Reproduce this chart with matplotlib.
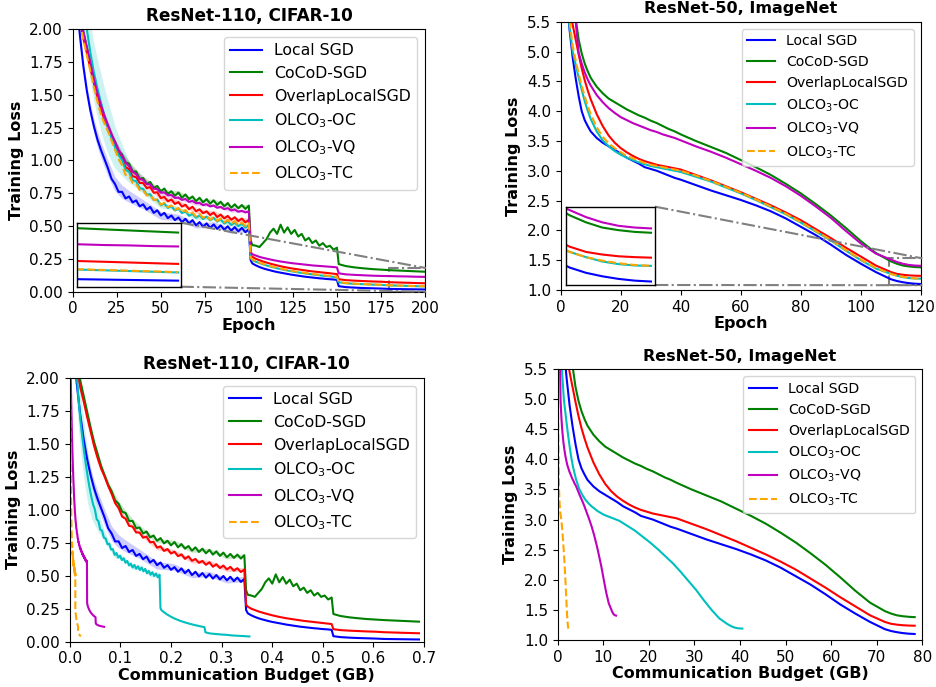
import numpy as np
import matplotlib
matplotlib.use("Agg")
import matplotlib.pyplot as plt
from mpl_toolkits.axes_grid1.inset_locator import mark_inset

# ==============================
# Data
# ==============================
METHODS = ["Local SGD", "CoCoD-SGD", "OverlapLocalSGD",
           r"OLCO$_3$-OC", r"OLCO$_3$-VQ", r"OLCO$_3$-TC"]
COLORS = ["b", "g", "r", "c", "m", "orange"]
STYLES = ["-", "-", "-", "-", "-", "--"]

# --- ResNet-110, CIFAR-10 ---
cifar_epochs = np.array([1, 2, 3, 4, 5] + list(range(6, 101, 2)) + [101]
                        + list(range(102, 151, 2)) + [151] + list(range(155, 201, 5)))

cifar_local = [2.60, 2.35, 2.12, 1.96, 1.84,
               1.72, 1.53, 1.38, 1.26, 1.16, 1.08, 1.01, 0.94, 0.86, 0.82, 0.76, 0.76,
               0.71, 0.725, 0.68, 0.695, 0.65, 0.665, 0.625, 0.645, 0.60, 0.62, 0.58, 0.60,
               0.56, 0.58, 0.545, 0.565, 0.53, 0.555, 0.52, 0.545, 0.505, 0.53, 0.495, 0.52,
               0.485, 0.512, 0.478, 0.505, 0.472, 0.498, 0.465, 0.492, 0.459, 0.486, 0.453, 0.475,
               0.24, 0.215, 0.20, 0.188, 0.178, 0.17, 0.163, 0.156, 0.15, 0.145, 0.14, 0.135, 0.13,
               0.126, 0.122, 0.118, 0.114, 0.111, 0.108, 0.105, 0.102, 0.10, 0.097, 0.095, 0.093, 0.09,
               0.042, 0.035, 0.031, 0.028, 0.026, 0.024, 0.021, 0.020, 0.019, 0.018, 0.017]
cifar_cocod = [2.90, 2.65, 2.40, 2.20, 2.05,
               1.98, 1.86, 1.74, 1.62, 1.51, 1.42, 1.33, 1.26, 1.19, 1.14, 1.07, 1.045,
               0.985, 0.975, 0.915, 0.915, 0.86, 0.865, 0.82, 0.835, 0.79, 0.805, 0.765, 0.785,
               0.745, 0.765, 0.73, 0.755, 0.715, 0.74, 0.705, 0.725, 0.69, 0.715, 0.68, 0.705,
               0.67, 0.695, 0.66, 0.685, 0.65, 0.675, 0.64, 0.665, 0.635, 0.66, 0.63, 0.655,
               0.39, 0.355, 0.35, 0.34, 0.37, 0.40, 0.45, 0.48, 0.44, 0.51, 0.45, 0.49, 0.44,
               0.47, 0.42, 0.44, 0.39, 0.41, 0.37, 0.39, 0.35, 0.37, 0.34, 0.35, 0.32, 0.335,
               0.21, 0.195, 0.185, 0.178, 0.172, 0.168, 0.164, 0.161, 0.158, 0.155, 0.152]
cifar_overlap = [2.90, 2.60, 2.35, 2.15, 2.00,
                 1.93, 1.82, 1.70, 1.59, 1.48, 1.39, 1.31, 1.25, 1.18, 1.12, 1.05, 1.012,
                 0.948, 0.932, 0.878, 0.872, 0.828, 0.827, 0.788, 0.797, 0.753, 0.757, 0.713, 0.722,
                 0.688, 0.702, 0.668, 0.682, 0.648, 0.662, 0.628, 0.647, 0.613, 0.627, 0.598, 0.612,
                 0.583, 0.602, 0.568, 0.587, 0.558, 0.577, 0.548, 0.567, 0.538, 0.557, 0.528, 0.547,
                 0.28, 0.265, 0.25, 0.24, 0.23, 0.222, 0.214, 0.207, 0.20, 0.194, 0.188, 0.183, 0.178,
                 0.174, 0.17, 0.166, 0.162, 0.158, 0.155, 0.152, 0.149, 0.146, 0.143, 0.14, 0.137, 0.134,
                 0.095, 0.088, 0.084, 0.081, 0.078, 0.076, 0.072, 0.070, 0.068, 0.066, 0.064]
cifar_oc = [3.10, 2.85, 2.60, 2.40, 2.26,
            2.15, 2.00, 1.82, 1.67, 1.55, 1.44, 1.34, 1.25, 1.17, 1.10, 1.04, 1.002,
            0.928, 0.912, 0.848, 0.842, 0.788, 0.782, 0.738, 0.742, 0.698, 0.702, 0.658, 0.672,
            0.638, 0.652, 0.618, 0.632, 0.598, 0.612, 0.578, 0.592, 0.563, 0.582, 0.553, 0.572,
            0.543, 0.562, 0.533, 0.552, 0.518, 0.537, 0.508, 0.527, 0.498, 0.517, 0.488, 0.507,
            0.255, 0.24, 0.228, 0.218, 0.208, 0.20, 0.192, 0.185, 0.178, 0.172, 0.166, 0.161, 0.156,
            0.151, 0.147, 0.143, 0.139, 0.135, 0.132, 0.128, 0.125, 0.122, 0.119, 0.116, 0.113, 0.11,
            0.072, 0.064, 0.06, 0.057, 0.054, 0.052, 0.048, 0.046, 0.044, 0.042, 0.040]
cifar_vq = [2.95, 2.70, 2.45, 2.22, 2.06,
            1.98, 1.86, 1.74, 1.62, 1.51, 1.42, 1.34, 1.27, 1.20, 1.14, 1.08, 1.036,
            0.984, 0.956, 0.914, 0.896, 0.859, 0.851, 0.819, 0.816, 0.784, 0.781, 0.754, 0.756,
            0.734, 0.736, 0.714, 0.716, 0.699, 0.706, 0.684, 0.691, 0.674, 0.676, 0.659, 0.666,
            0.649, 0.656, 0.639, 0.646, 0.629, 0.636, 0.619, 0.626, 0.609, 0.616, 0.604, 0.611,
            0.30, 0.285, 0.275, 0.265, 0.258, 0.252, 0.246, 0.24, 0.235, 0.23, 0.226, 0.222, 0.218,
            0.215, 0.212, 0.209, 0.206, 0.203, 0.20, 0.198, 0.196, 0.194, 0.192, 0.19, 0.188, 0.185,
            0.14, 0.132, 0.128, 0.125, 0.122, 0.12, 0.119, 0.117, 0.116, 0.114, 0.113]
cifar_tc = [2.85, 2.55, 2.30, 2.12, 2.00,
            1.92, 1.80, 1.68, 1.56, 1.45, 1.35, 1.28, 1.22, 1.15, 1.08, 1.01, 0.962,
            0.888, 0.882, 0.828, 0.822, 0.773, 0.772, 0.733, 0.737, 0.698, 0.702, 0.663, 0.677,
            0.643, 0.657, 0.623, 0.637, 0.603, 0.622, 0.588, 0.602, 0.573, 0.592, 0.563, 0.577,
            0.548, 0.567, 0.538, 0.557, 0.528, 0.547, 0.518, 0.537, 0.508, 0.527, 0.50, 0.522,
            0.26, 0.245, 0.232, 0.222, 0.212, 0.204, 0.196, 0.189, 0.182, 0.176, 0.17, 0.165, 0.16,
            0.155, 0.151, 0.147, 0.143, 0.139, 0.136, 0.132, 0.129, 0.126, 0.123, 0.12, 0.117, 0.114,
            0.074, 0.066, 0.061, 0.058, 0.055, 0.053, 0.049, 0.047, 0.045, 0.043, 0.041]

# std bands (epochs where the shaded spread is given)
cifar_band_epochs = [2, 4, 6, 8, 10, 12, 14, 16, 18, 20, 24, 28, 32, 36, 40, 50, 60, 70, 80, 90, 100]
cifar_std_local = [0.03, 0.03, 0.04, 0.045, 0.05, 0.055, 0.06, 0.06, 0.06, 0.06, 0.055,
                   0.05, 0.045, 0.04, 0.035, 0.03, 0.025, 0.02, 0.02, 0.02, 0.02]
cifar_std_cocod = [0.02, 0.02, 0.02, 0.02, 0.02, 0.02, 0.02, 0.02, 0.02, 0.02, 0.02,
                   0.02, 0.02, 0.018, 0.016, 0.015, 0.014, 0.013, 0.012, 0.012, 0.012]
cifar_std_overlap = [0.015] * 21
cifar_std_oc = [0.08, 0.10, 0.15, 0.20, 0.22, 0.22, 0.22, 0.22, 0.21, 0.20, 0.16,
                0.12, 0.08, 0.05, 0.035, 0.02, 0.015, 0.015, 0.015, 0.015, 0.015]
cifar_std_vq = [0.02, 0.02, 0.02, 0.02, 0.02, 0.02, 0.025, 0.025, 0.025, 0.025, 0.025,
                0.025, 0.025, 0.025, 0.02, 0.02, 0.015, 0.015, 0.012, 0.012, 0.012]
cifar_std_tc = [0.01] * 21

# communication cost per epoch (GB)
cifar_gb_per_epoch = [0.00345, 0.00345, 0.00345, 0.001775, 0.00034, 0.00011]

# --- ResNet-50, ImageNet ---
imnet_epochs = np.array(list(range(1, 11)) + list(range(12, 41, 2))
                        + list(range(45, 111, 5)) + [112, 114, 116, 118, 120])

imnet_local = [6.6, 5.9, 5.35, 4.9, 4.55, 4.25, 4.0, 3.85, 3.75, 3.66,
               3.55, 3.47, 3.41, 3.35, 3.29, 3.22, 3.17, 3.12, 3.06, 3.03, 3.0, 2.96, 2.92, 2.88, 2.85,
               2.76, 2.67, 2.59, 2.51, 2.42, 2.32, 2.2, 2.06, 1.92, 1.76, 1.59, 1.44, 1.3, 1.18,
               1.15, 1.13, 1.115, 1.105, 1.10]
imnet_cocod = [7.0, 6.5, 6.05, 5.75, 5.55, 5.2, 4.97, 4.8, 4.67, 4.56,
               4.41, 4.3, 4.21, 4.15, 4.09, 4.03, 3.98, 3.93, 3.89, 3.84, 3.8, 3.75, 3.7, 3.66, 3.61,
               3.5, 3.4, 3.3, 3.18, 3.06, 2.93, 2.78, 2.62, 2.44, 2.25, 2.04, 1.82, 1.62, 1.48,
               1.44, 1.41, 1.395, 1.385, 1.38]
imnet_overlap = [6.9, 6.2, 5.75, 5.45, 5.2, 4.95, 4.72, 4.52, 4.35, 4.2,
                 3.95, 3.75, 3.59, 3.47, 3.38, 3.31, 3.25, 3.2, 3.16, 3.13, 3.1, 3.08, 3.06, 3.04, 3.02,
                 2.93, 2.84, 2.74, 2.64, 2.53, 2.42, 2.3, 2.17, 2.02, 1.87, 1.71, 1.56, 1.41, 1.3,
                 1.27, 1.255, 1.245, 1.24, 1.237]
imnet_oc = [6.8, 6.0, 5.4, 5.0, 4.78, 4.56, 4.36, 4.17, 4.01, 3.87,
            3.66, 3.51, 3.41, 3.33, 3.27, 3.22, 3.18, 3.14, 3.11, 3.08, 3.06, 3.04, 3.02, 3.0, 2.98,
            2.9, 2.82, 2.72, 2.62, 2.51, 2.39, 2.27, 2.13, 1.98, 1.83, 1.66, 1.5, 1.36, 1.27,
            1.24, 1.215, 1.2, 1.192, 1.19]
imnet_vq = [7.0, 6.4, 5.95, 5.65, 5.5, 4.98, 4.8, 4.65, 4.53, 4.43,
            4.27, 4.15, 4.05, 3.97, 3.9, 3.85, 3.8, 3.76, 3.72, 3.68, 3.65, 3.61, 3.58, 3.55, 3.51,
            3.41, 3.32, 3.22, 3.11, 3.0, 2.88, 2.74, 2.58, 2.4, 2.21, 1.99, 1.78, 1.61, 1.51,
            1.47, 1.44, 1.42, 1.41, 1.405]
imnet_tc = [6.8, 6.05, 5.5, 5.1, 4.85, 4.63, 4.43, 4.25, 4.09, 3.95,
            3.73, 3.57, 3.46, 3.38, 3.31, 3.25, 3.21, 3.17, 3.13, 3.1, 3.08, 3.06, 3.04, 3.02, 3.0,
            2.92, 2.83, 2.73, 2.63, 2.52, 2.4, 2.28, 2.14, 1.99, 1.84, 1.67, 1.51, 1.37, 1.27,
            1.24, 1.22, 1.205, 1.195, 1.19]

imnet_gb_per_epoch = [0.6525, 0.6525, 0.6525, 0.3375, 0.1067, 0.0200]

cifar_curves = [cifar_local, cifar_cocod, cifar_overlap, cifar_oc, cifar_vq, cifar_tc]
cifar_stds = [cifar_std_local, cifar_std_cocod, cifar_std_overlap,
              cifar_std_oc, cifar_std_vq, cifar_std_tc]
imnet_curves = [imnet_local, imnet_cocod, imnet_overlap, imnet_oc, imnet_vq, imnet_tc]

# ==============================
# Plot helpers
# ==============================
LW = 1.5


def draw_curves(ax, epochs, curves, scales=None, stds=None, band_epochs=None):
    for i, y in enumerate(curves):
        y = np.asarray(y, dtype=float)
        x = epochs * (scales[i] if scales is not None else 1.0)
        if stds is not None:
            idx = np.searchsorted(epochs, band_epochs)
            s = np.asarray(stds[i])
            ax.fill_between(x[idx], y[idx] - s, y[idx] + s, color=COLORS[i],
                            alpha=0.2, lw=0)
        ax.plot(x, y, color=COLORS[i], ls=STYLES[i], lw=LW, label=METHODS[i])


def style_axes(ax, title, xlabel, title_fs, leg_fs):
    ax.set_title(title, fontsize=title_fs, fontweight="bold")
    ax.set_xlabel(xlabel, fontsize=11.5, fontweight="bold", labelpad=1)
    ax.set_ylabel("Training Loss", fontsize=11.5, fontweight="bold")
    ax.tick_params(labelsize=11)
    ax.legend(loc="upper right", fontsize=leg_fs)


def add_inset(ax, bounds, epochs, curves, xlim, ylim, stds=None, band_epochs=None):
    axins = ax.inset_axes(bounds)
    draw_curves(axins, epochs, curves, stds=stds, band_epochs=band_epochs)
    axins.set_xlim(*xlim)
    axins.set_ylim(*ylim)
    axins.set_xticks([])
    axins.set_yticks([])
    for sp in axins.spines.values():
        sp.set_linewidth(1.0)
    mark_inset(ax, axins, loc1=1, loc2=4, fc="none", ec="0.5", ls="-.", lw=1.5)
    return axins


fig = plt.figure(figsize=(9.36, 6.87), dpi=100)

# top-left: CIFAR-10 vs epoch
ax1 = fig.add_axes([0.0777, 0.5754, 0.3764, 0.3824])
draw_curves(ax1, cifar_epochs, cifar_curves, stds=cifar_stds, band_epochs=cifar_band_epochs)
ax1.set_xlim(0, 200)
ax1.set_ylim(0, 2.0)
ax1.set_xticks(np.arange(0, 201, 25))
ax1.set_yticks(np.arange(0, 2.01, 0.25))
style_axes(ax1, "ResNet-110, CIFAR-10", "Epoch", 12.2, 11.3)
add_inset(ax1, [0.013, 0.019, 0.293, 0.244], cifar_epochs, cifar_curves,
          (179.5, 200.5), (0.0, 0.18), stds=cifar_stds, band_epochs=cifar_band_epochs)

# top-right: ImageNet vs epoch
ax2 = fig.add_axes([0.5990, 0.5779, 0.3849, 0.3905])
draw_curves(ax2, imnet_epochs, imnet_curves)
ax2.set_xlim(0, 120)
ax2.set_ylim(1.0, 5.5)
ax2.set_xticks(np.arange(0, 121, 20))
ax2.set_yticks(np.arange(1.0, 5.51, 0.5))
style_axes(ax2, "ResNet-50, ImageNet", "Epoch", 11.5, 10.1)
add_inset(ax2, [0.0139, 0.0186, 0.248, 0.292], imnet_epochs, imnet_curves,
          (109.5, 120.5), (1.08, 1.53))

# bottom-left: CIFAR-10 vs communication
ax3 = fig.add_axes([0.0745, 0.0659, 0.3785, 0.3843])
draw_curves(ax3, cifar_epochs, cifar_curves, scales=cifar_gb_per_epoch,
            stds=cifar_stds, band_epochs=cifar_band_epochs)
ax3.set_xlim(0, 0.7)
ax3.set_ylim(0, 2.0)
ax3.set_xticks(np.arange(0, 0.71, 0.1))
ax3.set_yticks(np.arange(0, 2.01, 0.25))
style_axes(ax3, "ResNet-110, CIFAR-10", "Communication Budget (GB)", 12.2, 11.3)

# bottom-right: ImageNet vs communication
ax4 = fig.add_axes([0.5958, 0.0684, 0.3897, 0.3945])
draw_curves(ax4, imnet_epochs, imnet_curves, scales=imnet_gb_per_epoch)
ax4.set_xlim(0, 80)
ax4.set_ylim(1.0, 5.5)
ax4.set_xticks(np.arange(0, 81, 10))
ax4.set_yticks(np.arange(1.0, 5.51, 0.5))
style_axes(ax4, "ResNet-50, ImageNet", "Communication Budget (GB)", 11.5, 10.1)

fig.savefig("out.png", dpi=100)
